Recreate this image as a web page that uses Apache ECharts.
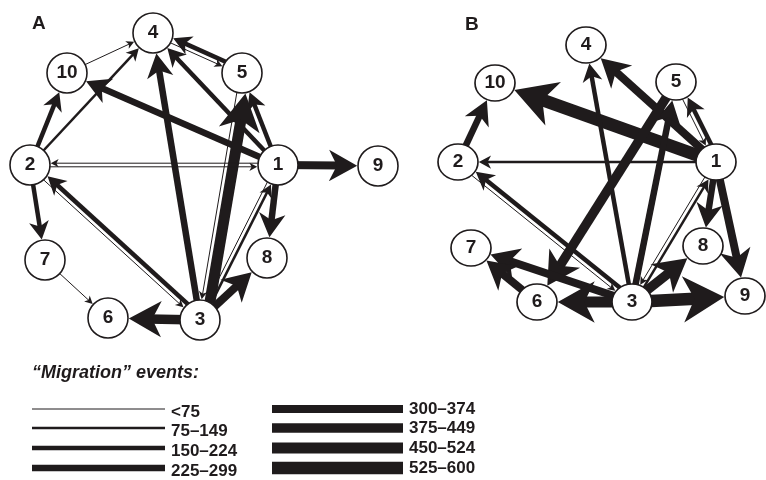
<!DOCTYPE html>
<html><head><meta charset="utf-8">
<script src="https://cdn.jsdelivr.net/npm/echarts@6/dist/echarts.min.js"></script>
<style>html,body{margin:0;padding:0;background:#fff}#c{width:766px;height:480px}</style>
</head><body><div id="c"></div>
<script>
// ---------- data ----------
const nodeNames = ['1','2','3','4','5','6','7','8','9','10'];
// layout positions of the nodes (panel A / panel B)
const nodePosA = [[278,165],[30,165],[200,320],[153,33],[242,73],[108,318],[45,260],[267,258],[378,166],[67,73]];
const nodePosB = [[716,162],[458,162],[632,302],[586,45],[676,82],[537,302],[471,248],[703,246],[745,296],[495,83]];
// migration edges: [from, to, event-class index]
const edgesA = [
 ['10','4',0],['4','5',0],['5','4',2],['2','10',2],['2','4',1],['1','10',3],['1','4',2],['1','5',2],
 ['3','4',3],['3','5',6],['5','3',0],['2','1',0],['1','2',0],['1','9',4],['1','8',3],['2','7',2],
 ['7','6',0],['3','2',2],['2','3',0],['3','6',5],['3','8',4],['3','1',1],['1','3',0]
];
const edgesB = [
 ['2','10',3],['1','10',7],['1','4',4],['1','2',1],['1','5',2],['5','1',0],['1','8',3],['1','9',4],
 ['3','4',2],['3','5',3],['5','6',5],['3','1',1],['1','3',0],['3','2',2],['2','3',0],['3','7',4],
 ['6','7',4],['3','6',6],['3','8',5],['3','9',7]
];
const classLabels = ['<75','75–149','150–224','225–299','300–374','375–449','450–524','525–600'];

// ---------- style ----------
const INK = '#1f1b1c';
const classWidths = [1, 2.5, 4.5, 6.5, 8, 9.5, 11, 12.5];
const FONT = 'Liberation Sans, Arial, Helvetica, sans-serif';

function idx(n){ return nodeNames.indexOf(n); }

function edgeSeries(edges, pos, rx, ry){
  const pairs = new Set(edges.map(e => e[0] + '>' + e[1]));
  return {
    type: 'custom', coordinateSystem: 'cartesian2d', clip: false, z: 2,
    encode: {x: [0, 2], y: [1, 3]},
    data: edges.map(e => { const a = pos[idx(e[0])], b = pos[idx(e[1])]; return [a[0], a[1], b[0], b[1], e[2]]; }),
    renderItem: function(params, api){
      const p0 = api.coord([api.value(0), api.value(1)]);
      const p1 = api.coord([api.value(2), api.value(3)]);
      const e = edges[params.dataIndex];
      const w = classWidths[api.value(4)];
      let dx = p1[0]-p0[0], dy = p1[1]-p0[1];
      const len = Math.hypot(dx, dy); dx /= len; dy /= len;
      const nx = -dy, ny = dx;
      let off = 0;
      if (pairs.has(e[1] + '>' + e[0])) off = w/2 + 1.3;
      const sx = p0[0] + nx*off, sy = p0[1] + ny*off;
      // entry point into the target ellipse
      const ux = sx - p1[0], uy = sy - p1[1];
      const RX = rx + 0.8, RY = ry + 0.8;
      const A = (dx/RX)*(dx/RX) + (dy/RY)*(dy/RY);
      const B = 2*(ux*dx/(RX*RX) + uy*dy/(RY*RY));
      const C = (ux/RX)*(ux/RX) + (uy/RY)*(uy/RY) - 1;
      const disc = B*B - 4*A*C;
      const t = disc > 0 ? (-B - Math.sqrt(disc))/(2*A) : len - rx;
      const tx = sx + dx*t, ty = sy + dy*t;
      const W = 5 + 3.3*w, L = 5 + 2.9*w;
      const bx = tx - dx*L, by = ty - dy*L;
      const kx = tx - dx*L*0.72, ky = ty - dy*L*0.72;
      const ex = tx - dx*L*0.6, ey = ty - dy*L*0.6;
      return {
        type: 'group',
        children: [
          {type: 'line', shape: {x1: sx, y1: sy, x2: ex, y2: ey}, style: {stroke: INK, lineWidth: w, lineCap: 'butt'}},
          {type: 'polygon', shape: {points: [[tx,ty],[bx+nx*W/2, by+ny*W/2],[kx,ky],[bx-nx*W/2, by-ny*W/2]]}, style: {fill: INK}}
        ]
      };
    }
  };
}

function nodeSeries(pos, size){
  return {
    type: 'scatter', coordinateSystem: 'cartesian2d', z: 5, symbol: 'circle', symbolSize: size,
    data: pos.map((p, i) => ({name: nodeNames[i], value: p})),
    itemStyle: {color: '#fff', borderColor: INK, borderWidth: 1.6, opacity: 1},
    label: {show: true, position: 'inside', formatter: '{b}', color: INK, fontWeight: 'bold', fontSize: 19, fontFamily: FONT},
    emphasis: {disabled: true}, silent: true
  };
}

// legend graphics
const legendGraphics = [];
classLabels.forEach((lab, i) => {
  const col = i < 4 ? 0 : 1, row = i % 4;
  const x0 = col ? 272 : 32, x1 = col ? 403 : 165;
  const y = [409, 428, 448, 468][row];
  legendGraphics.push({type: 'line', shape: {x1: x0, y1: y, x2: x1, y2: y}, style: {stroke: INK, lineWidth: classWidths[i]}});
  legendGraphics.push({type: 'text', x: col ? 409 : 171, y: y + (col ? 0 : 3),
    style: {text: lab, font: 'bold 17px ' + FONT, fill: INK, verticalAlign: 'middle'}});
});
legendGraphics.push({type: 'text', x: 32, y: 373, style: {text: '“Migration” events:', font: 'italic bold 18px ' + FONT, fill: INK, verticalAlign: 'middle'}});
legendGraphics.push({type: 'text', x: 32, y: 24, style: {text: 'A', font: 'bold 19px ' + FONT, fill: INK, verticalAlign: 'middle'}});
legendGraphics.push({type: 'text', x: 465, y: 25, style: {text: 'B', font: 'bold 19px ' + FONT, fill: INK, verticalAlign: 'middle'}});

const chart = echarts.init(document.getElementById('c'), null, {renderer: 'canvas'});
chart.setOption({
  backgroundColor: '#fff',
  animation: false,
  grid: {left: 0, right: 0, top: 0, bottom: 0},
  xAxis: {type: 'value', min: 0, max: 766, show: false},
  yAxis: {type: 'value', min: 0, max: 480, inverse: true, show: false},
  graphic: legendGraphics,
  series: [
    edgeSeries(edgesA, nodePosA, 20, 20),
    edgeSeries(edgesB, nodePosB, 20, 18),
    nodeSeries(nodePosA, 40),
    nodeSeries(nodePosB, [40, 36])
  ]
});
</script></body></html>
